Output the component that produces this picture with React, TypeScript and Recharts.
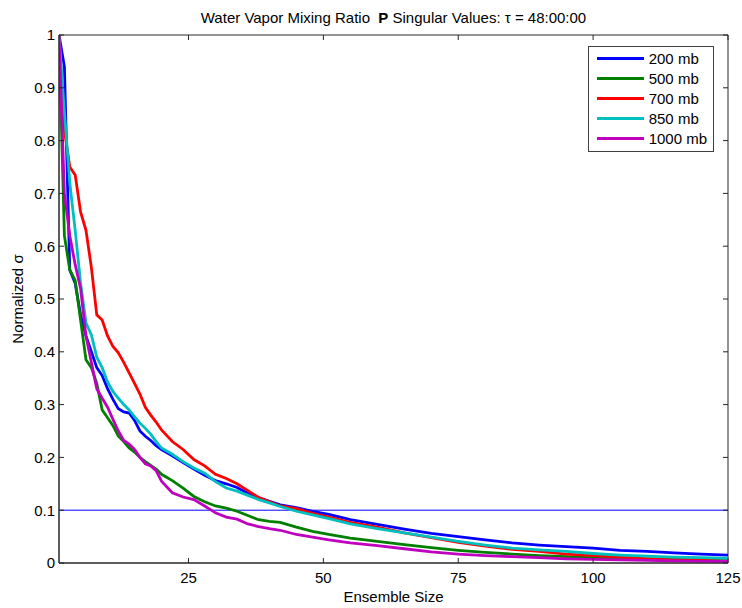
import React from 'react';
import { LineChart, Line, XAxis, YAxis, ReferenceLine, ReferenceArea, Legend } from 'recharts';

const ensembleSizes = [1, 2, 3, 4, 5, 6, 7, 8, 9, 10, 11, 12, 13, 14, 15, 16, 17, 18, 19, 20, 22, 24, 26, 28, 30, 32, 34, 36, 38, 40, 42, 45, 48, 51, 55, 60, 65, 70, 75, 80, 85, 90, 95, 100, 105, 110, 115, 120, 125];

const mb200 = [1.0, 0.94, 0.555, 0.53, 0.47, 0.43, 0.40, 0.37, 0.355, 0.33, 0.31, 0.292, 0.286, 0.284, 0.27, 0.25, 0.24, 0.232, 0.222, 0.215, 0.203, 0.19, 0.178, 0.166, 0.156, 0.15, 0.143, 0.132, 0.124, 0.117, 0.11, 0.105, 0.098, 0.092, 0.082, 0.073, 0.064, 0.056, 0.05, 0.044, 0.038, 0.034, 0.031, 0.028, 0.024, 0.022, 0.019, 0.017, 0.015];
const mb500 = [1.0, 0.62, 0.555, 0.535, 0.46, 0.385, 0.37, 0.34, 0.29, 0.275, 0.26, 0.24, 0.23, 0.218, 0.21, 0.2, 0.192, 0.185, 0.178, 0.168, 0.156, 0.142, 0.126, 0.116, 0.108, 0.104, 0.098, 0.09, 0.082, 0.079, 0.077, 0.068, 0.06, 0.054, 0.047, 0.041, 0.035, 0.029, 0.024, 0.02, 0.017, 0.014, 0.012, 0.010, 0.009, 0.008, 0.007, 0.006, 0.005];
const mb700 = [1.0, 0.82, 0.75, 0.735, 0.665, 0.63, 0.56, 0.47, 0.46, 0.43, 0.41, 0.398, 0.38, 0.36, 0.34, 0.32, 0.295, 0.28, 0.267, 0.252, 0.23, 0.215, 0.196, 0.184, 0.168, 0.16, 0.15, 0.137, 0.124, 0.116, 0.108, 0.103, 0.094, 0.087, 0.077, 0.068, 0.057, 0.048, 0.039, 0.032, 0.026, 0.022, 0.017, 0.014, 0.011, 0.008, 0.006, 0.005, 0.004];
const mb850 = [1.0, 0.855, 0.72, 0.63, 0.53, 0.455, 0.432, 0.39, 0.37, 0.343, 0.325, 0.312, 0.30, 0.29, 0.277, 0.265, 0.255, 0.244, 0.23, 0.218, 0.206, 0.192, 0.18, 0.17, 0.154, 0.142, 0.136, 0.128, 0.12, 0.114, 0.107, 0.098, 0.091, 0.084, 0.074, 0.065, 0.057, 0.049, 0.041, 0.034, 0.028, 0.025, 0.022, 0.018, 0.015, 0.013, 0.011, 0.010, 0.009];
const mb1000 = [1.0, 0.70, 0.62, 0.565, 0.52, 0.43, 0.38, 0.33, 0.312, 0.295, 0.272, 0.25, 0.232, 0.225, 0.215, 0.2, 0.188, 0.184, 0.175, 0.155, 0.133, 0.125, 0.12, 0.108, 0.095, 0.087, 0.083, 0.074, 0.069, 0.065, 0.062, 0.054, 0.049, 0.044, 0.038, 0.033, 0.027, 0.021, 0.017, 0.014, 0.012, 0.010, 0.008, 0.007, 0.006, 0.005, 0.004, 0.003, 0.003];

const seriesKeys = ['s200', 's500', 's700', 's850', 's1000'];
const seriesNames = ['200 mb', '500 mb', '700 mb', '850 mb', '1000 mb'];
const seriesColors = ['#0000ff', '#008000', '#ff0000', '#00bfbf', '#bf00bf'];
const seriesValues = [mb200, mb500, mb700, mb850, mb1000];

const xTicks = [25, 50, 75, 100, 125];
const yTicks = [0, 0.1, 0.2, 0.3, 0.4, 0.5, 0.6, 0.7, 0.8, 0.9, 1];
const threshold = 0.1;

const data = ensembleSizes.map((n, i) => {
  const row: Record<string, number> = { n };
  seriesKeys.forEach((k, j) => {
    row[k] = seriesValues[j][i];
  });
  return row;
});

const FONT = '"Liberation Sans", Arial, Helvetica, sans-serif';
const AXIS = '#262626';
const CHART_W = 742;
const CHART_H = 608;
const MARGIN = { top: 35, right: 14, bottom: 15, left: 0 };
const X_AXIS_H = 30;
const Y_AXIS_W = 59;
const PLOT_W = CHART_W - MARGIN.left - MARGIN.right - Y_AXIS_W;
const PLOT_H = CHART_H - MARGIN.top - MARGIN.bottom - X_AXIS_H;
const TICK_LEN = 5;

const BottomTick = (props: any) => {
  const { x, y, payload } = props;
  return (
    <g>
      <line x1={x} y1={y} x2={x} y2={y - TICK_LEN} stroke={AXIS} strokeWidth={1} />
      <line x1={x} y1={y - PLOT_H} x2={x} y2={y - PLOT_H + TICK_LEN} stroke={AXIS} strokeWidth={1} />
      <text x={x} y={y + 19.5} textAnchor="middle" fill="#000" fontSize={15} fontFamily={FONT}>
        {payload.value}
      </text>
    </g>
  );
};

const LeftTick = (props: any) => {
  const { x, y, payload } = props;
  return (
    <g>
      <line x1={x} y1={y} x2={x + TICK_LEN} y2={y} stroke={AXIS} strokeWidth={1} />
      <line x1={x + PLOT_W} y1={y} x2={x + PLOT_W - TICK_LEN} y2={y} stroke={AXIS} strokeWidth={1} />
      <text x={x - 4} y={y} dy="0.36em" textAnchor="end" fill="#000" fontSize={15} fontFamily={FONT}>
        {String(Math.round(payload.value * 10) / 10)}
      </text>
    </g>
  );
};

const LegendBox = () => (
  <div
    style={{
      border: '1px solid #404040',
      background: '#fff',
      width: 126,
      height: 106,
      boxSizing: 'border-box',
      paddingTop: 1.5,
      fontFamily: FONT,
      fontSize: 15,
      color: '#000',
    }}
  >
    {seriesNames.map((name, j) => (
      <div key={name} style={{ display: 'flex', alignItems: 'center', height: 20 }}>
        <div style={{ marginLeft: 7.7, width: 47, height: 3, background: seriesColors[j] }} />
        <div style={{ marginLeft: 5, lineHeight: '20px', whiteSpace: 'nowrap' }}>{name}</div>
      </div>
    ))}
  </div>
);

export default function App() {
  return (
    <div style={{ position: 'absolute', left: 0, top: 0, width: CHART_W, height: CHART_H, background: '#fff' }}>
      <div
        style={{
          position: 'absolute',
          left: 59,
          width: 669,
          top: 10,
          textAlign: 'center',
          fontFamily: FONT,
          fontSize: 15,
          lineHeight: '15px',
          color: '#000',
          whiteSpace: 'pre',
        }}
      >
        {'Water Vapor Mixing Ratio  '}
        <b>P</b>
        {' Singular Values: τ = 48:00:00'}
      </div>
      <div
        style={{
          position: 'absolute',
          left: 393.5,
          top: 596,
          transform: 'translate(-50%,-50%)',
          fontFamily: FONT,
          fontSize: 15,
          lineHeight: '15px',
          color: '#000',
          whiteSpace: 'nowrap',
        }}
      >
        Ensemble Size
      </div>
      <div
        style={{
          position: 'absolute',
          left: 17,
          top: 299,
          transform: 'translate(-50%,-50%) rotate(-90deg)',
          fontFamily: FONT,
          fontSize: 15,
          lineHeight: '15px',
          color: '#000',
          whiteSpace: 'nowrap',
        }}
      >
        Normalized σ
      </div>
      <LineChart
        width={CHART_W}
        height={CHART_H}
        data={data}
        margin={MARGIN}
        style={{ position: 'absolute', left: 0, top: 0 }}
      >
        <XAxis
          dataKey="n"
          type="number"
          domain={[1, 125]}
          ticks={xTicks}
          allowDataOverflow
          height={X_AXIS_H}
          tickSize={0}
          tickMargin={0}
          tickLine={false}
          stroke={AXIS}
          tick={<BottomTick />}
        />
        <YAxis
          type="number"
          domain={[0, 1]}
          ticks={yTicks}
          allowDataOverflow
          width={Y_AXIS_W}
          tickSize={0}
          tickMargin={0}
          tickLine={false}
          stroke={AXIS}
          tick={<LeftTick />}
        />
        <ReferenceArea x1={1} x2={125} y1={0} y2={1} fill="none" stroke={AXIS} strokeWidth={1} />
        <ReferenceLine y={threshold} stroke="#0000ff" strokeWidth={1} />
        {seriesKeys.map((k, j) => (
          <Line
            key={k}
            dataKey={k}
            name={seriesNames[j]}
            stroke={seriesColors[j]}
            strokeWidth={2.8}
            dot={false}
            type="linear"
            isAnimationActive={false}
          />
        ))}
        <Legend
          layout="vertical"
          align="center"
          verticalAlign="middle"
          content={<LegendBox />}
          wrapperStyle={{ position: 'absolute', left: 588, top: 46, width: 126, height: 106 }}
        />
      </LineChart>
    </div>
  );
}
